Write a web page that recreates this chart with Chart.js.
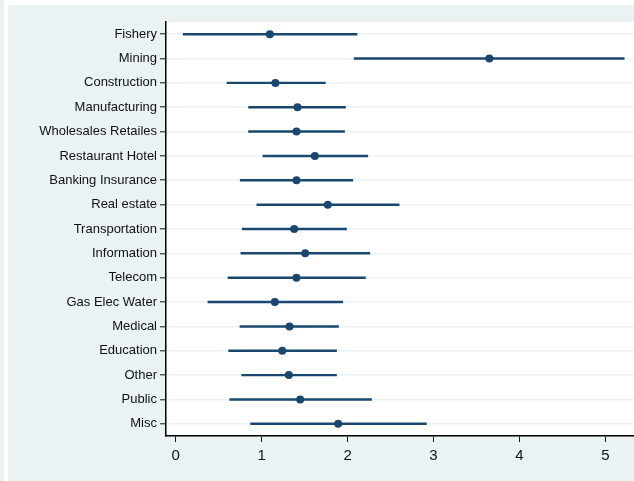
<!DOCTYPE html>
<html>
<head>
<meta charset="utf-8">
<script src="https://cdn.jsdelivr.net/npm/chart.js@4/dist/chart.umd.min.js"></script>
<style>
  html, body { margin: 0; padding: 0; background: #ffffff; }
  #wrap { width: 634px; height: 481px; position: relative; }
</style>
</head>
<body>
<div id="wrap"><canvas id="c" width="634" height="481"></canvas></div>
<script>
// Sector odds ratios with 95% confidence intervals
const sectors = [
  'Fishery', 'Mining', 'Construction', 'Manufacturing', 'Wholesales Retailes',
  'Restaurant Hotel', 'Banking Insurance', 'Real estate', 'Transportation',
  'Information', 'Telecom', 'Gas Elec Water', 'Medical', 'Education',
  'Other', 'Public', 'Misc'
];
const estimate = [1.095, 3.65, 1.16, 1.417, 1.405, 1.619, 1.405, 1.77, 1.378,
                  1.506, 1.405, 1.153, 1.324, 1.239, 1.316, 1.448, 1.89];
const ciLow    = [0.087, 2.076, 0.595, 0.847, 0.847, 1.014, 0.75, 0.944, 0.773,
                  0.758, 0.607, 0.374, 0.747, 0.615, 0.766, 0.627, 0.871];
const ciHigh   = [2.11, 5.22, 1.74, 1.975, 1.964, 2.235, 2.06, 2.6, 1.987,
                  2.258, 2.208, 1.944, 1.894, 1.871, 1.871, 2.278, 2.917];
const xTicks   = [0, 1, 2, 3, 4, 5];

const NAVY = '#1a476f';
const BG = '#eaf2f3';

// Outer panel and white plot region behind the chart
const panelBackground = {
  id: 'panelBackground',
  beforeDraw(chart) {
    const { ctx, chartArea: a, width, height } = chart;
    ctx.save();
    ctx.fillStyle = '#ffffff';
    ctx.fillRect(0, 0, width, height);
    ctx.fillStyle = BG;
    ctx.fillRect(0, 0, 4, height);
    ctx.fillRect(8, 5, width - 8, height - 5);
    ctx.fillStyle = '#ffffff';
    ctx.fillRect(a.left, a.top, a.right - a.left, a.bottom - a.top);
    ctx.restore();
  }
};

new Chart(document.getElementById('c'), {
  type: 'bar',
  data: {
    labels: sectors,
    datasets: [
      {
        type: 'bar',
        label: '95% CI',
        data: ciLow.map((lo, i) => [lo, ciHigh[i]]),
        backgroundColor: NAVY,
        borderWidth: 0,
        barThickness: 1.8,
        grouped: false,
        order: 2
      },
      {
        type: 'line',
        label: 'Estimate',
        indexAxis: 'y',
        data: estimate,
        showLine: false,
        pointRadius: 4,
        pointHoverRadius: 4,
        pointBackgroundColor: NAVY,
        pointBorderColor: NAVY,
        pointBorderWidth: 0,
        order: 1
      }
    ]
  },
  options: {
    indexAxis: 'y',
    responsive: false,
    animation: false,
    devicePixelRatio: 1,
    layout: { autoPadding: false, padding: { top: 22, right: 0, bottom: 0, left: 0 } },
    plugins: {
      legend: { display: false },
      tooltip: { enabled: false }
    },
    scales: {
      x: {
        type: 'linear',
        min: -0.114,
        max: 5.334,
        afterBuildTicks(scale) {
          scale.ticks = xTicks.map(v => ({ value: v }));
        },
        afterFit(scale) { scale.height = 45; },
        grid: {
          drawOnChartArea: false,
          drawTicks: true,
          tickLength: 6,
          tickColor: '#111111',
          tickWidth: 1
        },
        border: { color: '#000000', width: 1.5 },
        ticks: {
          color: '#111111',
          padding: 5,
          font: { family: '"Liberation Sans", Arial, sans-serif', size: 15 },
          maxRotation: 0
        }
      },
      y: {
        type: 'category',
        offset: true,
        afterFit(scale) { scale.width = 166; },
        grid: {
          offset: false,
          color: BG,
          lineWidth: 1.6,
          drawTicks: true,
          tickLength: 6,
          tickColor: '#111111',
          tickWidth: 1
        },
        border: { color: '#000000', width: 1.5 },
        ticks: {
          color: '#111111',
          padding: 3,
          autoSkip: false,
          font: { family: '"Liberation Sans", Arial, sans-serif', size: 13 }
        }
      }
    }
  },
  plugins: [panelBackground]
});
</script>
</body>
</html>
